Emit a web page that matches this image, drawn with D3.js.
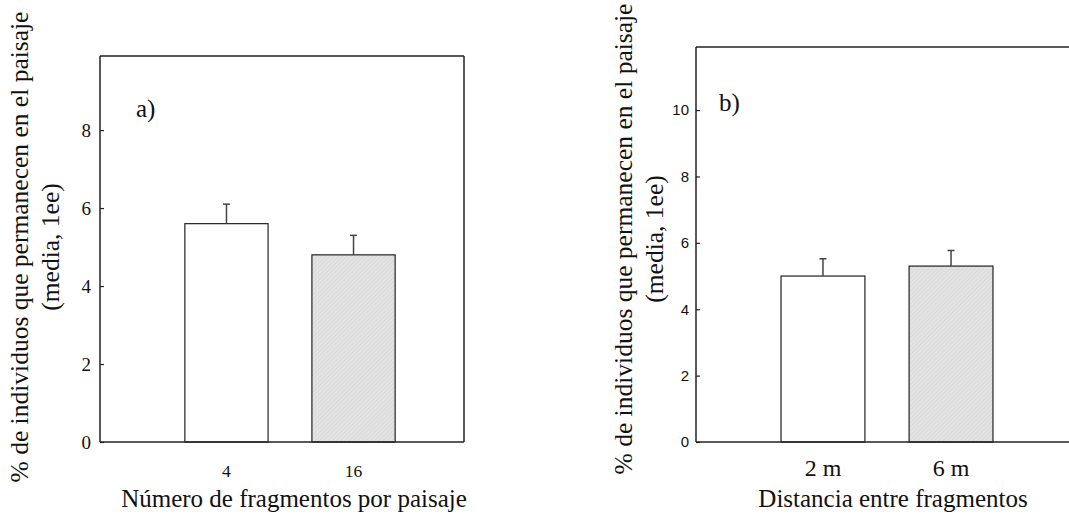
<!DOCTYPE html>
<html>
<head>
<meta charset="utf-8">
<script src="https://cdn.jsdelivr.net/npm/d3@7"></script>
<style>
  body { margin: 0; background: #fff; }
  svg { display: block; }
</style>
</head>
<body>
<svg id="chart" width="1069" height="514"></svg>
<script>
// panel a) number of fragments per landscape
const catsA = ["4", "16"]
const meansA = [5.6, 4.8]
const errA = [0.5, 0.5]
const ticksA = [0, 2, 4, 6, 8]

// panel b) distance between fragments
const catsB = ["2 m", "6 m"]
const meansB = [5.0, 5.3]
const errB = [0.52, 0.47]
const ticksB = [0, 2, 4, 6, 8, 10]

const yTitle1 = "% de individuos que permanecen en el paisaje"
const yTitle2 = "(media, 1ee)"

const svg = d3.select("#chart")
const serif = "'Liberation Serif', 'Times New Roman', serif"
const sans = "'Liberation Sans', Arial, sans-serif"

// hatched light grey fill
const defs = svg.append("defs")
const pat = defs.append("pattern")
  .attr("id", "hatch")
  .attr("patternUnits", "userSpaceOnUse")
  .attr("width", 3).attr("height", 3)
  .attr("patternTransform", "rotate(45)")
pat.append("rect").attr("width", 3).attr("height", 3).attr("fill", "#e3e3e3")
pat.append("line").attr("x1", 0).attr("y1", 0).attr("x2", 0).attr("y2", 3)
  .attr("stroke", "#d2d2d2").attr("stroke-width", 1)

function drawPanel(cfg) {
  const g = svg.append("g")

  const x = d3.scaleBand()
    .domain(cfg.cats)
    .range(cfg.band)
    .paddingInner(0.345)
    .paddingOuter(0.172)

  const y = d3.scaleLinear()
    .domain([0, cfg.yMax])
    .range([cfg.bottom, cfg.top])

  // bars
  g.selectAll(".bar")
    .data(cfg.means)
    .join("rect")
    .attr("x", (d, i) => x(cfg.cats[i]))
    .attr("y", d => y(d))
    .attr("width", x.bandwidth())
    .attr("height", d => y(0) - y(d))
    .attr("fill", (d, i) => i === 0 ? "#fff" : "url(#hatch)")
    .attr("stroke", "#222")
    .attr("stroke-width", 1.2)

  // error bars (upper only)
  cfg.means.forEach((m, i) => {
    const cx = x(cfg.cats[i]) + x.bandwidth() / 2
    g.append("line")
      .attr("x1", cx).attr("x2", cx)
      .attr("y1", y(m)).attr("y2", y(m + cfg.err[i]))
      .attr("stroke", "#444").attr("stroke-width", 1.5)
    g.append("line")
      .attr("x1", cx - 3.5).attr("x2", cx + 3.5)
      .attr("y1", y(m + cfg.err[i])).attr("y2", y(m + cfg.err[i]))
      .attr("stroke", "#444").attr("stroke-width", 1.5)
  })

  // frame
  const frame = g.append("g").attr("stroke", "#222").attr("stroke-width", 1.5).attr("fill", "none")
  frame.append("line").attr("x1", cfg.left).attr("x2", cfg.left).attr("y1", cfg.top).attr("y2", cfg.bottom)
  frame.append("line").attr("x1", cfg.left).attr("x2", cfg.right).attr("y1", cfg.top).attr("y2", cfg.top)
  frame.append("line").attr("x1", cfg.left).attr("x2", cfg.right).attr("y1", cfg.bottom).attr("y2", cfg.bottom)
  if (cfg.rightBorder) {
    frame.append("line").attr("x1", cfg.right).attr("x2", cfg.right).attr("y1", cfg.top).attr("y2", cfg.bottom)
  }

  // y axis, ticks pointing inward
  const yAxis = d3.axisRight(y)
    .tickValues(cfg.ticks)
    .tickSize(4)
    .tickFormat(d3.format("d"))
  const ya = g.append("g")
    .attr("transform", `translate(${cfg.left},0)`)
    .call(yAxis)
  ya.select(".domain").remove()
  ya.selectAll(".tick line").attr("stroke", "#222").attr("stroke-width", 1.2)
  ya.selectAll(".tick text")
    .attr("x", -cfg.tickGap)
    .attr("text-anchor", "end")
    .attr("fill", "#111")
    .style("font-family", cfg.tickFont)
    .style("font-size", cfg.tickSize + "px")

  // x category labels
  g.selectAll(".xlab")
    .data(cfg.cats)
    .join("text")
    .attr("x", d => x(d) + x.bandwidth() / 2)
    .attr("y", cfg.xLabY)
    .attr("text-anchor", "middle")
    .attr("fill", "#111")
    .style("font-family", serif)
    .style("font-size", cfg.xLabSize + "px")
    .text(d => d)

  // x title
  g.append("text")
    .attr("x", cfg.xTitleX)
    .attr("y", 507)
    .attr("text-anchor", "middle")
    .attr("fill", "#111")
    .style("font-family", serif)
    .style("font-size", "25px")
    .text(cfg.xTitle)

  // y title, two lines
  g.append("text")
    .attr("transform", `translate(${cfg.yTitleX},${cfg.yTitleY}) rotate(-90)`)
    .attr("text-anchor", "middle")
    .attr("fill", "#111")
    .style("font-family", serif)
    .style("font-size", "25.5px")
    .text(yTitle1)
  g.append("text")
    .attr("transform", `translate(${cfg.yTitleX + 31},${cfg.yTitleY}) rotate(-90)`)
    .attr("text-anchor", "middle")
    .attr("fill", "#111")
    .style("font-family", serif)
    .style("font-size", "25.5px")
    .text(yTitle2)

  // panel letter
  g.append("text")
    .attr("x", cfg.tagX)
    .attr("y", cfg.tagY)
    .attr("fill", "#111")
    .style("font-family", serif)
    .style("font-size", "25px")
    .text(cfg.tag)
}

drawPanel({
  cats: catsA, means: meansA, err: errA, ticks: ticksA,
  yMax: 9.9, left: 100, right: 464, top: 56, bottom: 442,
  band: [163, 417], rightBorder: true,
  tickFont: serif, tickSize: 19, tickGap: 9,
  xLabY: 477, xLabSize: 17.5,
  xTitle: "Número de fragmentos por paisaje", xTitleX: 294,
  yTitleX: 28, yTitleY: 247,
  tag: "a)", tagX: 136, tagY: 117
})

drawPanel({
  cats: catsB, means: meansB, err: errB, ticks: ticksB,
  yMax: 11.9, left: 696, right: 1080, top: 47, bottom: 442,
  band: [759, 1015], rightBorder: false,
  tickFont: sans, tickSize: 15, tickGap: 7,
  xLabY: 476, xLabSize: 24,
  xTitle: "Distancia entre fragmentos", xTitleX: 893,
  yTitleX: 632, yTitleY: 239,
  tag: "b)", tagX: 719, tagY: 111
})
</script>
</body>
</html>
